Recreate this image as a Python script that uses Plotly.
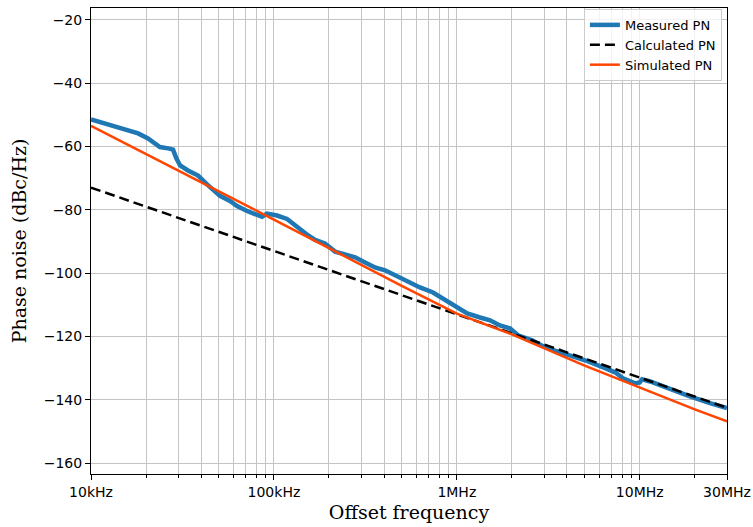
import plotly.graph_objects as go

# offset frequency (Hz) / phase noise (dBc/Hz)
meas_freq = [10e3, 12.4e3, 15.9e3, 18.1e3, 20.5e3, 22.4e3, 23.8e3, 26.4e3, 28.1e3, 29.2e3,
             30.7e3, 33.9e3, 38.5e3, 43.1e3, 46.5e3, 50.7e3, 57.5e3, 62.9e3, 71.3e3, 80.8e3,
             86.1e3, 91.7e3, 104e3, 118e3, 134e3, 154e3, 168e3, 190e3, 216e3, 245e3,
             278e3, 315e3, 357e3, 405e3, 459e3, 521e3, 629e3, 741e3, 840e3, 918e3,
             1.0e6, 1.14e6, 1.34e6, 1.52e6, 1.72e6, 1.95e6, 2.16e6, 2.58e6, 3.03e6, 3.91e6,
             5.02e6, 6.46e6, 7.33e6, 8.1e6, 9.43e6, 10.0e6, 10.3e6, 11.4e6, 14.6e6, 18.8e6,
             24.2e6, 30e6]
meas_pn = [-51.5, -53.1, -54.7, -55.9, -57.5, -59.0, -60.2, -60.6, -61.0, -63.6,
           -66.0, -67.6, -69.2, -72.0, -73.6, -75.6, -77.2, -78.8, -80.4, -81.5,
           -82.2, -81.2, -81.8, -82.9, -85.5, -88.1, -89.5, -90.6, -93.2, -94.2,
           -95.0, -96.6, -98.2, -99.1, -100.7, -102.0, -104.5, -106.1, -108.0, -109.2,
           -110.8, -112.7, -114.0, -114.9, -116.5, -117.4, -119.6, -121.2, -123.4, -125.3,
           -127.5, -130.0, -131.3, -133.2, -134.8, -134.5, -133.5, -134.2, -136.6, -138.9,
           -141.0, -142.6]

calc_freq = [10e3, 100e3, 1e6, 10e6, 30e6]
calc_pn = [-73.0, -93.0, -113.0, -133.0, -142.5]

sim_freq = [10e3, 20e3, 50e3, 100e3, 200e3, 500e3, 1e6, 2e6, 5e6, 10e6, 20e6, 30e6]
sim_pn = [-53.5, -62.5, -74.2, -83.1, -92.2, -104.0, -112.8, -119.3, -129.2, -136.2, -143.0, -146.8]

x_tickvals = [10e3, 100e3, 1e6, 10e6, 30e6]
x_ticktext = ["10kHz", "100kHz", "1MHz", "10MHz", "30MHz"]
y_tickvals = [-160, -140, -120, -100, -80, -60, -40, -20]
y_ticktext = ["\u2212%d" % abs(v) for v in y_tickvals]

# minor decades 2..9 like matplotlib's log minor locator
minor_vals = [m * 10 ** d for d in range(4, 8) for m in range(2, 10) if m * 10 ** d < 30e6]

fig = go.Figure()
fig.add_trace(go.Scatter(x=meas_freq, y=meas_pn, mode='lines', name='Measured PN',
                         line=dict(color='#1f77b4', width=4.5)))
fig.add_trace(go.Scatter(x=calc_freq, y=calc_pn, mode='lines', name='Calculated PN',
                         line=dict(color='black', width=2.5, dash='10px,5px')))
fig.add_trace(go.Scatter(x=sim_freq, y=sim_pn, mode='lines', name='Simulated PN',
                         line=dict(color='#ff4500', width=2.5)))

fig.update_layout(
    width=753, height=527,
    margin=dict(l=91, r=26, t=8, b=53),
    paper_bgcolor='white', plot_bgcolor='white',
    font=dict(family='DejaVu Sans', size=14, color='black'),
    showlegend=True,
    legend=dict(x=0.992, y=0.998, xanchor='right', yanchor='top',
                bgcolor='rgba(255,255,255,0.8)', bordercolor='#cccccc', borderwidth=1,
                font=dict(family='DejaVu Sans', size=13)),
)

fig.update_xaxes(
    type='log', range=[4, 7.4771],
    tickmode='array', tickvals=x_tickvals, ticktext=x_ticktext,
    ticks='outside', ticklen=5, tickcolor='black',
    showgrid=True, gridcolor='#c4c4c4', gridwidth=1,
    minor=dict(tickmode='array', tickvals=minor_vals, ticks='outside', ticklen=3,
               tickcolor='black', showgrid=True, gridcolor='#c4c4c4', gridwidth=1),
    showline=True, linecolor='black', linewidth=1, mirror=True,
    zeroline=False, automargin=False,
    title=dict(text='Offset frequency', font=dict(family='DejaVu Serif', size=19), standoff=6),
)
fig.update_yaxes(
    range=[-163.4, -16.3],
    tickmode='array', tickvals=y_tickvals, ticktext=y_ticktext,
    ticks='outside', ticklen=5, tickcolor='black',
    showgrid=True, gridcolor='#c4c4c4', gridwidth=1,
    showline=True, linecolor='black', linewidth=1, mirror=True,
    zeroline=False, automargin=False,
    title=dict(text='Phase noise (dBc/Hz)', font=dict(family='DejaVu Serif', size=19), standoff=12),
)

# the page body has an 8px default margin; drop it so the figure sits at the corner
fig.write_html("out.html", config={'displayModeBar': False},
               post_script="document.body.style.margin='0';")
